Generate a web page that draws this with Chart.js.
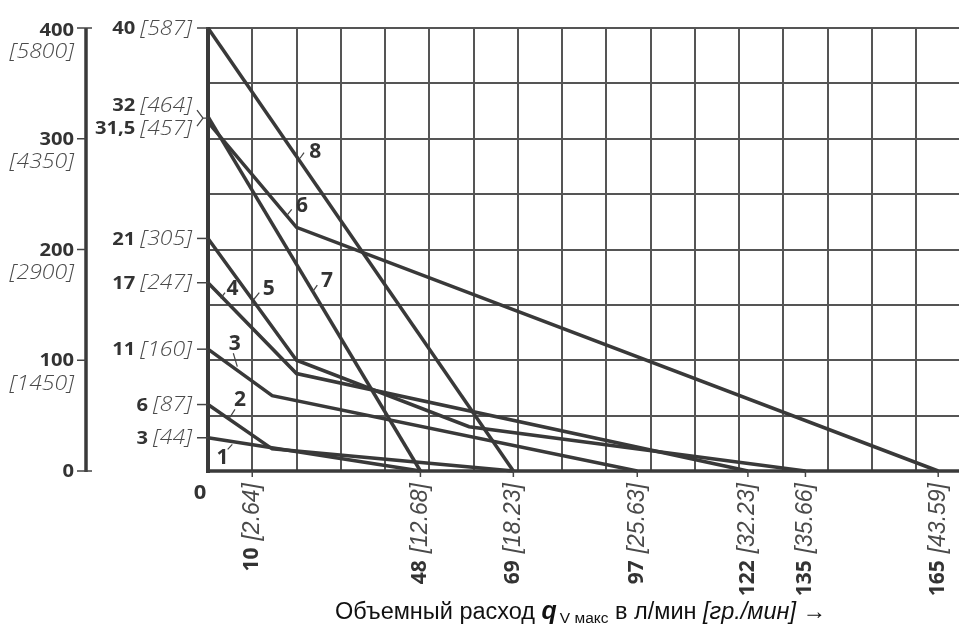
<!DOCTYPE html>
<html><head><meta charset="utf-8">
<script src="https://cdn.jsdelivr.net/npm/chart.js@4/dist/chart.umd.min.js"></script>
<style>html,body{margin:0;padding:0;background:#fff;}canvas{display:block;}</style>
</head><body>
<canvas id="c" width="959" height="628"></canvas>
<script>
// ---- data (flow l/min, pressure bar) ----
const curveNames = ['1','2','3','4','5','6','7','8'];
const flow1 = [0, 48];            const pres1 = [3, 0];
const flow2 = [0, 14.5, 69];      const pres2 = [6, 2, 0];
const flow3 = [0, 14.5, 97];      const pres3 = [11, 6.8, 0];
const flow4 = [0, 20, 122];       const pres4 = [17, 8.8, 0];
const flow5 = [0, 20, 59, 135];   const pres5 = [21, 10, 4, 0];
const flow6 = [0, 20, 165];       const pres6 = [31.5, 22, 0];
const flow7 = [0, 48];            const pres7 = [32, 0];
const flow8 = [0, 69];            const pres8 = [40, 0];

const yTickValues = [40, 32, 31.5, 21, 17, 11, 6, 3];
const yTickLabels = ['40', '32', '31,5', '21', '17', '11', '6', '3'];
const yTickPsi    = ['[587]', '[464]', '[457]', '[305]', '[247]', '[160]', '[87]', '[44]'];
const y2TickValues = [400, 300, 200, 100, 0];
const y2TickPsi    = ['[5800]', '[4350]', '[2900]', '[1450]', ''];
const xTickValues = [10, 48, 69, 97, 122, 135, 165];
const xTickGpm    = ['[2.64]', '[12.68]', '[18.23]', '[25.63]', '[32.23]', '[35.66]', '[43.59]'];

const flows = [flow1, flow2, flow3, flow4, flow5, flow6, flow7, flow8];
const press = [pres1, pres2, pres3, pres4, pres5, pres6, pres7, pres8];

// curve-number annotations placed in data units: [labelX, labelY, leaderX1, leaderY1, leaderX2, leaderY2]
const curveLabelPos = [
  [3.28, 1.13, 4.45, 1.96, 5.49, 2.41],
  [7.23, 6.37, 6.10, 5.57, 4.81, 4.76],
  [6.03, 11.47, 5.72, 10.63, 6.62, 9.42],
  [5.54, 16.39, 3.84, 16.10, 2.87, 15.59],
  [13.72, 16.43, 11.59, 16.10, 10.24, 15.44],
  [21.24, 23.90, 18.92, 23.63, 17.92, 23.12],
  [26.89, 17.16, 24.70, 16.79, 23.66, 16.19],
  [24.25, 28.80, 21.70, 28.74, 20.79, 28.24]
];

const LINE = '#393939';

function txt(ctx, s, x, y, font, color, align, sx, baseline) {
  ctx.save();
  ctx.font = font;
  ctx.fillStyle = color;
  ctx.textBaseline = baseline || 'middle';
  ctx.textAlign = align;
  ctx.translate(x, y);
  ctx.scale(sx || 1, 1);
  ctx.fillText(s, 0, 0);
  const w = ctx.measureText(s).width * (sx || 1);
  ctx.restore();
  return w;
}
function seg(ctx, pts, w, color) {
  ctx.save();
  ctx.strokeStyle = color; ctx.lineWidth = w; ctx.lineCap = 'butt';
  ctx.beginPath();
  ctx.moveTo(pts[0], pts[1]);
  for (let i = 2; i < pts.length; i += 2) ctx.lineTo(pts[i], pts[i + 1]);
  ctx.stroke();
  ctx.restore();
}

const decor = {
  id: 'decor',
  afterDatasetsDraw(chart) {
    const ctx = chart.ctx;
    const xs = chart.scales.x, ys = chart.scales.y;
    const x0 = xs.getPixelForValue(0);
    const yTop = ys.getPixelForValue(40), yBot = ys.getPixelForValue(0);
    // main axes
    seg(ctx, [x0, yTop - 1, x0, yBot + 2], 4, '#3a3a3a');
    seg(ctx, [x0 - 2, yBot, chart.width, yBot], 3.5, '#3a3a3a');

    // primary y tick labels
    const boldY = 'bold 18px "Open Sans"';
    const italY = 'italic 300 19.5px "Open Sans"';
    yTickValues.forEach((v, i) => {
      const py = ys.getPixelForValue(v);
      let ly = py + 1;
      if (yTickLabels[i] === '32') ly = py - 10.5;
      if (yTickLabels[i] === '31,5') ly = py + 7;
      const w = txt(ctx, yTickPsi[i], 192, ly, italY, '#4a4a4a', 'right', 1.18);
      txt(ctx, yTickLabels[i], 192 - w - 5, ly, boldY, '#333', 'right', 1.12);
      if (yTickLabels[i] === '32') {
        seg(ctx, [197, ly + 4, 203, py + 1.5, x0, py + 1.5], 1.3, '#444');
      } else if (yTickLabels[i] === '31,5') {
        seg(ctx, [197, ly - 3, 203, py - 4], 1.3, '#444');
      } else {
        seg(ctx, [197, py, x0, py], 1.5, '#444');
      }
    });

    // secondary (psi-scaled) axis at left
    const ax2 = 86;
    seg(ctx, [ax2, yTop, ax2, yBot + 1], 3.5, '#3a3a3a');
    y2TickValues.forEach((v, i) => {
      const py = ys.getPixelForValue(v / 10);
      const ext = (v === 400 || v === 0) ? 92 : ax2;
      seg(ctx, [77, py, ext, py], 1.5, '#444');
      txt(ctx, String(v), 74, py + (v === 400 ? 3 : 1), boldY, '#333', 'right', 1.12);
      if (y2TickPsi[i]) txt(ctx, y2TickPsi[i], 74, py + 24, italY, '#4a4a4a', 'right', 1.18);
    });

    // x tick labels (rotated)
    xTickValues.forEach((v, i) => {
      const px = xs.getPixelForValue(v);
      seg(ctx, [px, yBot, px, yBot + 6], 1.5, '#444');
      ctx.save();
      ctx.translate(px, 483);
      ctx.rotate(-Math.PI / 2);
      ctx.textBaseline = 'middle';
      ctx.textAlign = 'right';
      ctx.font = 'italic 23px "Liberation Sans"';
      ctx.fillStyle = '#4a4a4a';
      ctx.fillText(xTickGpm[i], 0, 0);
      const w = ctx.measureText(xTickGpm[i]).width;
      ctx.font = 'bold 21px "Open Sans"';
      ctx.fillStyle = '#333';
      ctx.fillText(String(v), -w - 7, 0);
      ctx.restore();
    });
    txt(ctx, '0', 200, 493, 'bold 20px "Open Sans"', '#333', 'center', 1.1);

    // curve numbers with leaders
    curveLabelPos.forEach((p, i) => {
      txt(ctx, curveNames[i], xs.getPixelForValue(p[0]), ys.getPixelForValue(p[1]),
          'bold 21px "Open Sans"', '#333', 'center', 1);
      seg(ctx, [xs.getPixelForValue(p[2]), ys.getPixelForValue(p[3]),
                xs.getPixelForValue(p[4]), ys.getPixelForValue(p[5])], 1.2, '#444');
    });

    // axis title
    let x = 335; const by = 619;
    const reg = '23.5px "Liberation Sans"';
    const sub = '15.5px "Liberation Sans"';
    x += txt(ctx, 'Объемный расход ', x, by, reg, '#111', 'left', 1, 'alphabetic');
    x += txt(ctx, 'q', x, by, 'bold italic 25px "Liberation Sans"', '#111', 'left', 1, 'alphabetic');
    x += 3;
    x += txt(ctx, 'V макс', x, by + 4, sub, '#111', 'left', 1, 'alphabetic');
    x += txt(ctx, ' в л/мин ', x, by, reg, '#111', 'left', 1, 'alphabetic');
    x += txt(ctx, '[гр./мин]', x, by, 'italic 23.5px "Liberation Sans"', '#111', 'left', 1, 'alphabetic');
    txt(ctx, ' →', x, by, reg, '#111', 'left', 1, 'alphabetic');
  }
};

new Chart(document.getElementById('c'), {
  type: 'line',
  data: {
    datasets: flows.map((f, i) => ({
      label: curveNames[i],
      data: f.map((q, j) => ({ x: q, y: press[i][j] })),
      borderColor: LINE,
      borderWidth: 3.5,
      pointRadius: 0,
      tension: 0,
      fill: false,
      clip: false,
      borderJoinStyle: 'miter'
    }))
  },
  options: {
    responsive: false,
    animation: false,
    devicePixelRatio: 1,
    layout: { padding: { left: 208, top: 28, right: 0, bottom: 157 } },
    plugins: { legend: { display: false }, tooltip: { enabled: false } },
    scales: {
      x: {
        type: 'linear', min: 0, max: 169.7,
        ticks: { display: false, stepSize: 10, includeBounds: false },
        grid: { color: '#555', lineWidth: 2, drawTicks: false },
        border: { display: false }
      },
      y: {
        type: 'linear', min: 0, max: 40,
        ticks: { display: false, stepSize: 5, includeBounds: false },
        grid: { color: '#555', lineWidth: 2, drawTicks: false },
        border: { display: false }
      }
    }
  },
  plugins: [decor]
});
</script>
</body></html>
